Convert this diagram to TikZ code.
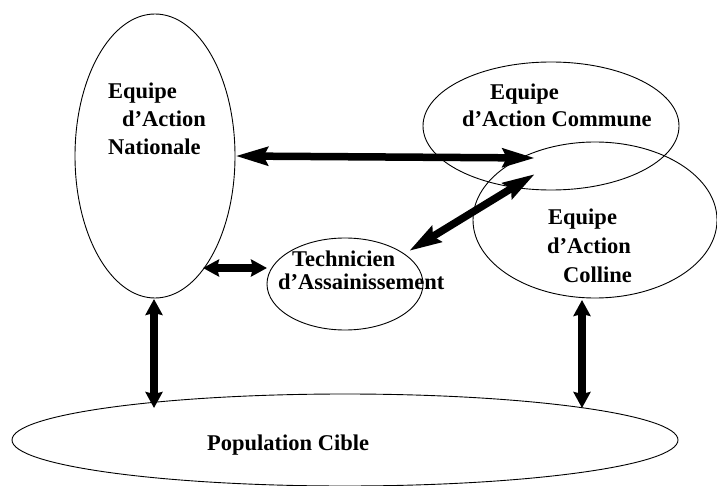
\documentclass[tikz,border=0pt]{standalone}
\usepackage{fontspec}
\setmainfont{Liberation Serif}
\usetikzlibrary{arrows.meta,shapes.geometric}
\begin{document}
\begin{tikzpicture}[x=1pt,y=-1pt,
  ell/.style={draw,ellipse,line width=0.9pt,inner sep=0pt},
  lbl/.style={anchor=base west,inner sep=0pt,font=\fontsize{22.5}{26}\selectfont\bfseries},
  dbl/.style={line width=7.5pt,{Stealth[length=32pt,width=18pt,inset=4pt]}-{Stealth[length=32pt,width=18pt,inset=4pt]}},
  dbls/.style={line width=7.5pt,{Stealth[length=16pt,width=17pt,inset=2pt]}-{Stealth[length=16pt,width=17pt,inset=2pt]}}]
\useasboundingbox (0,0) rectangle (717,486);
% ellipses
\node[ell,minimum width=160pt,minimum height=284pt] (nat) at (155,156) {};
\node[ell,minimum width=256pt,minimum height=128pt] (com) at (551,126) {};
\node[ell,minimum width=244pt,minimum height=156pt] (col) at (595,220) {};
\node[ell,minimum width=156pt,minimum height=92pt] (tech) at (345,284) {};
\node[ell,minimum width=666pt,minimum height=92pt] (pop) at (345,440) {};
% labels
\node[lbl] (n1) at (108,99) {Equipe};
\node[lbl] (n2) at (122,127) {d'Action};
\node[lbl] (n3) at (108,155) {Nationale};
\node[lbl] (c1) at (490,100) {Equipe};
\node[lbl] (c2) at (462,127) {d'Action Commune};
\node[lbl] (l1) at (548,225) {Equipe};
\node[lbl] (l2) at (547,254) {d'Action};
\node[lbl] (l3) at (563,282) {Colline};
\node[lbl] (t1) at (292,266) {Technicien};
\node[lbl] (t2) at (278,290) {d'Assainissement};
\node[lbl] (p1) at (207,450) {Population Cible};
% arrow end points
\coordinate (h2) at (535,158);
\coordinate (d1) at (535,174);
\coordinate (d2) at (409,251);
\coordinate (s1) at (203,268);
\coordinate (s2) at (267,268);
\coordinate (v1) at (154,299);
\coordinate (v2) at (154,408);
\coordinate (w1) at (582,300);
\coordinate (w2) at (582,408);
% arrows
\draw[dbl] (nat.east) -- (h2);
\draw[dbl] (d1) -- (d2);
\draw[dbls] (s1) -- (s2);
\draw[dbls] (v1) -- (v2);
\draw[dbls] (w1) -- (w2);
\end{tikzpicture}
\end{document}
